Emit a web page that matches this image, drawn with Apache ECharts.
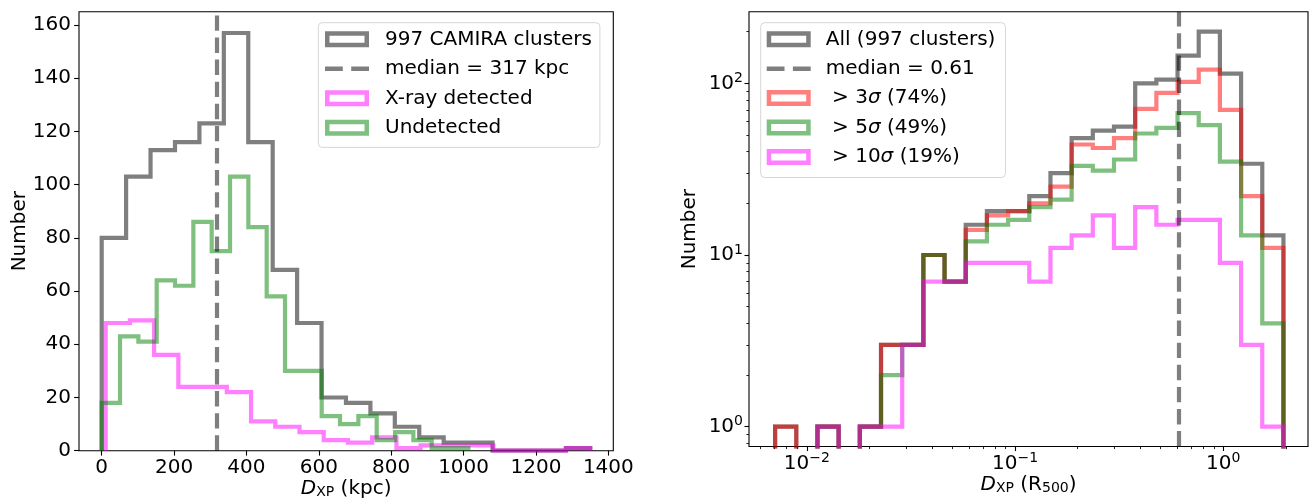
<!DOCTYPE html>
<html>
<head>
<meta charset="utf-8">
<script src="https://cdn.jsdelivr.net/npm/echarts@6/dist/echarts.min.js"></script>
<style>
  html, body { margin: 0; padding: 0; background: #ffffff; }
  #chart { width: 1309px; height: 499px; }
</style>
</head>
<body>
<div id="chart"></div>
<script>
// ---------- Left panel: offset in kpc, 20 linear bins per sample ----------
const allKpcBins = { start: 0, width: 67.5 };
const allKpcCounts = [80, 103, 113, 116, 123, 157, 116, 68, 48, 20, 18, 14, 9, 5, 3, 3, 0, 0, 0, 1];
const xrayKpcBins = { start: 11, width: 66.95 };
const xrayKpcCounts = [48, 49, 36, 24, 24, 22, 11, 9, 7, 4, 3, 5, 1, 2, 2, 2, 0, 0, 0, 1];
const undetKpcBins = { start: 0, width: 50.66 };
const undetKpcCounts = [18, 43, 41, 64, 62, 86, 75, 103, 84, 58, 30, 30, 13, 10, 13, 4, 7, 4, 1, 1];
const medianKpc = 317;
const kpcTicks = [0, 200, 400, 600, 800, 1000, 1200, 1400];
const numberTicks = [0, 20, 40, 60, 80, 100, 120, 140, 160];

// ---------- Right panel: offset in R500, 24 log-spaced bins ----------
const logBinStart = -2.152;   // log10 of the first bin edge
const logBinWidth = 0.1017;   // bin width in dex
const allR500Counts  = [1, 0, 1, 0, 1, 3, 3, 10, 7, 15, 18, 18, 22, 30, 48, 53, 56, 100, 105, 145, 200, 114, 34, 13];
const sig3R500Counts = [1, 0, 1, 0, 1, 3, 3, 10, 7, 14, 17, 18, 20, 25, 44, 42, 48, 71, 88, 102, 120, 70, 22, 11];
const sig5R500Counts = [0, 0, 1, 0, 1, 2, 3, 10, 7, 12, 15, 16, 19, 21, 33, 31, 36, 51, 55, 67, 57, 35, 13, 4];
const sig10R500Counts = [0, 0, 1, 0, 1, 1, 3, 7, 7, 9, 9, 9, 7, 11, 13, 17, 11, 19, 15, 16, 16, 9, 3, 1];
const medianR500 = 0.61;
const decadeTicksX = [0.01, 0.1, 1];
const decadeTicksY = [1, 10, 100];

// ---------- helpers ----------
const FONT = 'DejaVu Sans';
const C_ALL = 'rgba(0,0,0,0.5)';
const C_RED = 'rgba(255,0,0,0.5)';
const C_GREEN = 'rgba(0,128,0,0.5)';
const C_MAG = 'rgba(255,0,255,0.5)';
const LW = 4.2;
const LOG_FLOOR = 1e-3; // empty bins fall below the log axis and get clipped

function linearEdges(bins, n) {
  return Array.from({ length: n + 1 }, (_, i) => bins.start + i * bins.width);
}
function logEdges(n) {
  return Array.from({ length: n + 1 }, (_, i) => Math.pow(10, logBinStart + i * logBinWidth));
}
// outline of a step histogram: up the first edge, across each bin, down the last edge
function stepPath(edges, counts, floor) {
  const pts = [[edges[0], floor]];
  counts.forEach((c, i) => {
    const v = c > 0 ? c : floor;
    pts.push([edges[i], v], [edges[i + 1], v]);
  });
  pts.push([edges[edges.length - 1], floor]);
  return pts;
}
function minorLogTicks(e0, e1) {
  const out = [];
  for (let e = e0; e <= e1; e++) for (let m = 2; m <= 9; m++) out.push(m * Math.pow(10, e));
  return out;
}

function histSeries(name, edges, counts, floor, color, xi, yi) {
  return {
    type: 'line', name: name, xAxisIndex: xi, yAxisIndex: yi,
    data: stepPath(edges, counts, floor),
    symbol: 'none', showSymbol: false, silent: true, animation: false,
    clip: true,
    itemStyle: { color: color },
    lineStyle: { color: color, width: LW, join: 'miter', cap: 'butt' },
    emphasis: { disabled: true }
  };
}
function medianSeries(name, value, xi, yi) {
  return {
    type: 'line', name: name, xAxisIndex: xi, yAxisIndex: yi, data: [],
    symbol: 'none', silent: true, animation: false,
    itemStyle: { color: C_ALL },
    lineStyle: { color: C_ALL, width: LW },
    markLine: {
      silent: true, animation: false, symbol: ['none', 'none'],
      label: { show: false },
      emphasis: { disabled: true },
      lineStyle: { color: C_ALL, width: LW, type: [15.4, 6.7] },
      data: [{ xAxis: value }]
    }
  };
}

const HIST_ICON = 'path://M0,0H44V16H0Z M4.5,4.5V11.5H39.5V4.5Z';
const DASH_ICON = 'path://M0,0H17V4.2H0Z M25,0H42V4.2H25Z';
function legendItem(name, icon, color) {
  return { name: name, icon: icon, itemStyle: { color: color, borderWidth: 0, opacity: 1 } };
}

const tickLabel = { fontFamily: FONT, fontSize: 20, color: '#000' };
const supRich = {
  b: { fontFamily: FONT, fontSize: 20, lineHeight: 24, color: '#000' },
  sup: { fontFamily: FONT, fontSize: 14, lineHeight: 13.6, verticalAlign: 'top', color: '#000' }
};
function powerLabel(v) {
  const e = Math.round(Math.log10(v));
  return '{b|10}{sup|' + (e < 0 ? '\u2212' + (-e) : e) + '}';
}
const nameRich = {
  i: { fontFamily: FONT, fontSize: 20, fontStyle: 'italic', lineHeight: 20, color: '#000' },
  n: { fontFamily: FONT, fontSize: 20, lineHeight: 20, color: '#000' },
  sub: { fontFamily: FONT, fontSize: 14, lineHeight: 11.6, verticalAlign: 'bottom', color: '#000' }
};
const majorTick = (vals, len) => ({ show: true, inside: false, length: len, customValues: vals, lineStyle: { color: '#000', width: 1.1 } });
const minorTick = (vals) => ({ show: true, inside: false, length: 2.6, customValues: vals, lineStyle: { color: '#000', width: 0.85 } });
const hiddenLine = { show: false, onZero: false };

// ---------- panel geometry ----------
const G_LEFT = { left: 79, right: 695.7, top: 11.7, bottom: 48.3 };
const G_RIGHT = { left: 749, right: 1, top: 11.7, bottom: 52.5 };
const gridBase = { containLabel: false, outerBoundsMode: 'none' };

const leftEdgesAll = linearEdges(allKpcBins, allKpcCounts.length);
const leftEdgesX = linearEdges(xrayKpcBins, xrayKpcCounts.length);
const leftEdgesU = linearEdges(undetKpcBins, undetKpcCounts.length);
const rEdges = logEdges(allR500Counts.length);

const chart = echarts.init(document.getElementById('chart'), null, { renderer: 'canvas' });

const option = {
  animation: false,
  backgroundColor: '#ffffff',
  textStyle: { fontFamily: FONT },
  grid: [
    Object.assign({ show: true, borderColor: '#000', borderWidth: 1.1, backgroundColor: 'transparent' }, gridBase, G_LEFT),
    Object.assign({ show: true, borderColor: '#000', borderWidth: 1.1, backgroundColor: 'transparent' }, gridBase, G_RIGHT),
    Object.assign({ show: false }, gridBase, G_RIGHT)
  ],
  xAxis: [
    {
      type: 'value', gridIndex: 0, min: -62.7, max: 1413.7,
      splitLine: { show: false }, axisLine: hiddenLine,
      axisTick: majorTick(kpcTicks, 4.9),
      axisLabel: Object.assign({ customValues: kpcTicks, margin: 9, lineHeight: 16, formatter: (v) => String(v) }, tickLabel),
      name: '{i|D}{sub|XP}{n| (kpc)}', nameLocation: 'middle', nameGap: 28.5, nameMoveOverlap: false,
      nameTextStyle: { rich: nameRich }
    },
    {
      type: 'log', logBase: 10, gridIndex: 1, min: 0.00528, max: 2.551,
      splitLine: { show: false }, axisLine: hiddenLine,
      axisTick: majorTick(decadeTicksX, 4.5),
      axisLabel: { customValues: decadeTicksX, margin: 5, formatter: powerLabel, rich: supRich },
      name: '{i|D}{sub|XP}{n| (R}{sub|500}{n|)}', nameLocation: 'middle', nameGap: 28.5, nameMoveOverlap: false,
      nameTextStyle: { rich: nameRich }
    },
    {
      type: 'log', logBase: 10, gridIndex: 2, min: 0.00528, max: 2.551, position: 'bottom',
      splitLine: { show: false }, axisLine: hiddenLine,
      axisTick: minorTick(minorLogTicks(-3, 0)),
      axisLabel: { show: false }
    }
  ],
  yAxis: [
    {
      type: 'value', gridIndex: 0, min: 0, max: 165,
      splitLine: { show: false }, axisLine: hiddenLine,
      axisTick: majorTick(numberTicks, 4.9),
      axisLabel: Object.assign({ customValues: numberTicks, margin: 8, lineHeight: 20 }, tickLabel),
      name: 'Number', nameLocation: 'middle', nameGap: 47, nameRotate: 90, nameMoveOverlap: false,
      nameTextStyle: { fontFamily: FONT, fontSize: 20, lineHeight: 24, color: '#000' }
    },
    {
      type: 'log', logBase: 10, gridIndex: 1, min: 0.767, max: 261.2,
      splitLine: { show: false }, axisLine: hiddenLine,
      axisTick: majorTick(decadeTicksY, 4.5),
      axisLabel: { customValues: decadeTicksY, margin: 6, formatter: powerLabel, rich: supRich },
      name: 'Number', nameLocation: 'middle', nameGap: 47, nameRotate: 90, nameMoveOverlap: false,
      nameTextStyle: { fontFamily: FONT, fontSize: 20, lineHeight: 24, color: '#000' }
    },
    {
      type: 'log', logBase: 10, gridIndex: 2, min: 0.767, max: 261.2, position: 'left',
      splitLine: { show: false }, axisLine: hiddenLine,
      axisTick: minorTick(minorLogTicks(-1, 2)),
      axisLabel: { show: false }
    }
  ],
  legend: [
    {
      orient: 'vertical', left: 318.3, top: 22.7,
      selectedMode: false, itemWidth: 44, itemHeight: 16, itemGap: 9.5,
      padding: [6.6, 8, 9.6, 6.7],
      backgroundColor: 'rgba(255,255,255,0.8)', borderColor: 'rgba(204,204,204,0.8)',
      borderWidth: 1, borderRadius: 4,
      textStyle: { fontFamily: FONT, fontSize: 20, lineHeight: 20, color: '#000', padding: [0, 0, 0, 11] },
      data: [
        legendItem('997 CAMIRA clusters', HIST_ICON, C_ALL),
        legendItem('median = ' + medianKpc + ' kpc', DASH_ICON, C_ALL),
        legendItem('X-ray detected', HIST_ICON, C_MAG),
        legendItem('Undetected', HIST_ICON, C_GREEN)
      ]
    },
    {
      orient: 'vertical', left: 760.7, top: 22.7,
      selectedMode: false, itemWidth: 44, itemHeight: 16, itemGap: 9.4,
      padding: [6.6, 10, 10.6, 6],
      backgroundColor: 'rgba(255,255,255,0.8)', borderColor: 'rgba(204,204,204,0.8)',
      borderWidth: 1, borderRadius: 4,
      textStyle: {
        fontFamily: FONT, fontSize: 20, lineHeight: 20, color: '#000', padding: [0, 0, 0, 10],
        rich: {
          n: { fontFamily: FONT, fontSize: 20, lineHeight: 20, color: '#000' },
          s: { fontFamily: FONT, fontSize: 20, lineHeight: 20, fontStyle: 'italic', color: '#000' }
        }
      },
      formatter: function (name) {
        const m = name.match(/^> (\d+)σ (.*)$/);
        if (m) return '{n| > ' + m[1] + '}{s|σ}{n| ' + m[2] + '}';
        return '{n|' + name + '}';
      },
      data: [
        legendItem('All (997 clusters)', HIST_ICON, C_ALL),
        legendItem('median = ' + medianR500, DASH_ICON, C_ALL),
        legendItem('> 3σ (74%)', HIST_ICON, C_RED),
        legendItem('> 5σ (49%)', HIST_ICON, C_GREEN),
        legendItem('> 10σ (19%)', HIST_ICON, C_MAG)
      ]
    }
  ],
  series: [
    histSeries('997 CAMIRA clusters', leftEdgesAll, allKpcCounts, 0, C_ALL, 0, 0),
    medianSeries('median = ' + medianKpc + ' kpc', medianKpc, 0, 0),
    histSeries('X-ray detected', leftEdgesX, xrayKpcCounts, 0, C_MAG, 0, 0),
    histSeries('Undetected', leftEdgesU, undetKpcCounts, 0, C_GREEN, 0, 0),

    histSeries('All (997 clusters)', rEdges, allR500Counts, LOG_FLOOR, C_ALL, 1, 1),
    medianSeries('median = ' + medianR500, medianR500, 1, 1),
    histSeries('> 3σ (74%)', rEdges, sig3R500Counts, LOG_FLOOR, C_RED, 1, 1),
    histSeries('> 5σ (49%)', rEdges, sig5R500Counts, LOG_FLOOR, C_GREEN, 1, 1),
    histSeries('> 10σ (19%)', rEdges, sig10R500Counts, LOG_FLOOR, C_MAG, 1, 1)
  ]
};

chart.setOption(option);
</script>
</body>
</html>
